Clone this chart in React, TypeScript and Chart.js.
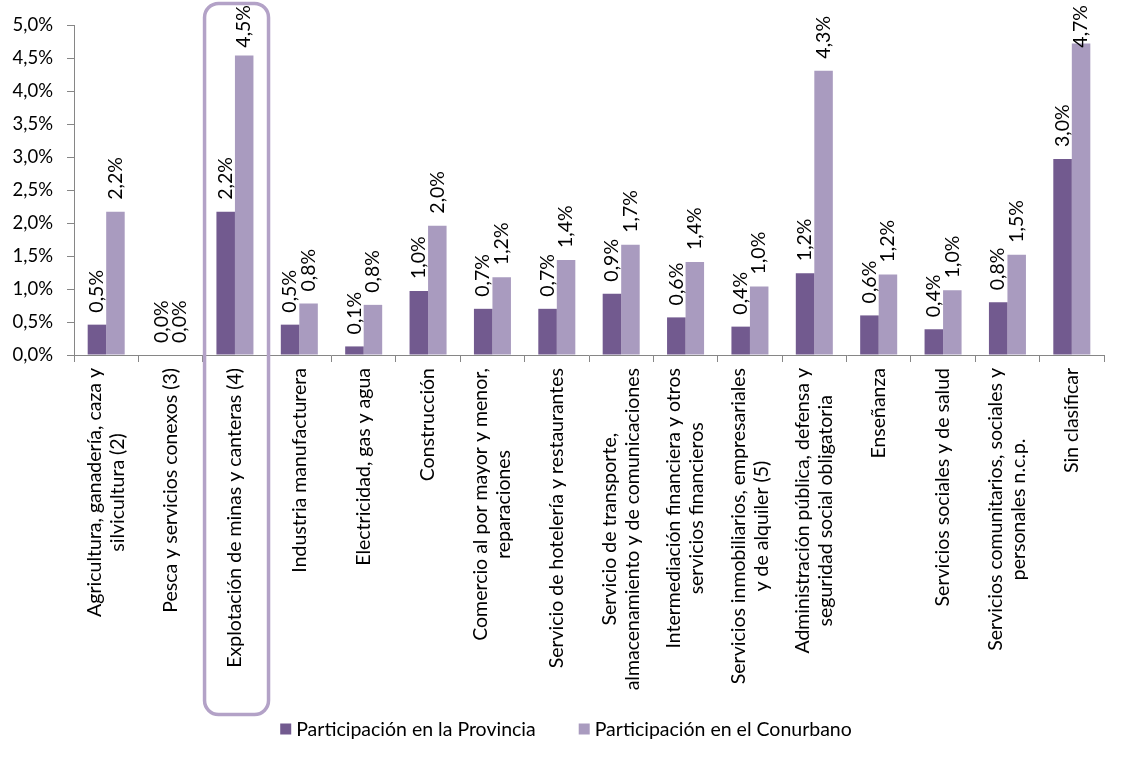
import React, { useEffect, useRef } from 'react';
import { Chart, registerables } from 'chart.js';

Chart.register(...registerables);

const categories: string[][] = [
  ['Agricultura, ganadería, caza y', 'silvicultura (2)'],
  ['Pesca y servicios conexos (3)'],
  ['Explotación de minas y canteras (4)'],
  ['Industria manufacturera'],
  ['Electricidad, gas y agua'],
  ['Construcción'],
  ['Comercio al por mayor y menor,', 'reparaciones'],
  ['Servicio de hotelería y restaurantes'],
  ['Servicio de transporte,', 'almacenamiento y de comunicaciones'],
  ['Intermediación financiera y otros', 'servicios financieros'],
  ['Servicios inmobiliarios, empresariales', 'y de alquiler (5)'],
  ['Administración pública, defensa y', 'seguridad social obligatoria'],
  ['Enseñanza'],
  ['Servicios sociales y de salud'],
  ['Servicios comunitarios, sociales y', 'personales n.c.p.'],
  ['Sin clasificar'],
];

const provincia = [0.46, 0.0, 2.17, 0.46, 0.13, 0.97, 0.7, 0.7, 0.93, 0.57, 0.43, 1.24, 0.6, 0.39, 0.8, 2.97];
const conurbano = [2.17, 0.0, 4.54, 0.78, 0.76, 1.96, 1.18, 1.44, 1.67, 1.41, 1.04, 4.31, 1.22, 0.98, 1.52, 4.72];

const seriesNames = ['Participación en la Provincia', 'Participación en el Conurbano'];
const seriesColors = ['#725A8F', '#A99BBF'];
const highlightIndex = 2;

const FONT = 'Lato, "Open Sans", sans-serif';
const fmt = (v: number) => v.toFixed(1).replace('.', ',') + '%';

export default function App() {
  const ref = useRef<HTMLCanvasElement | null>(null);

  useEffect(() => {
    if (!ref.current) return;

    const labelsPlugin = {
      id: 'customLabels',
      afterDatasetsDraw(chart: any) {
        const ctx = chart.ctx;
        ctx.save();
        ctx.fillStyle = '#000';
        ctx.font = `19.5px ${FONT}`;
        chart.data.datasets.forEach((ds: any, di: number) => {
          const meta = chart.getDatasetMeta(di);
          meta.data.forEach((el: any, i: number) => {
            const txt = fmt(ds.data[i]);
            const w = ctx.measureText(txt).width;
            let start = el.y - 12;
            if (start - w < 5) start = 5 + w;
            ctx.save();
            ctx.translate(el.x, start);
            ctx.rotate(-Math.PI / 2);
            ctx.textAlign = 'left';
            ctx.textBaseline = 'middle';
            ctx.fillText(txt, 0, 0);
            ctx.restore();
          });
        });
        ctx.restore();
      },
      afterDraw(chart: any) {
        const ctx = chart.ctx;
        const xs = chart.scales.x;
        const ca = chart.chartArea;
        // category labels
        ctx.save();
        ctx.fillStyle = '#000';
        ctx.font = `19.5px ${FONT}`;
        const lh = 23;
        categories.forEach((lines, i) => {
          const cx = xs.getPixelForValue(i);
          const maxW = Math.max(...lines.map((l) => ctx.measureText(l).width));
          ctx.save();
          ctx.translate(cx, ca.bottom + 13);
          ctx.rotate(-Math.PI / 2);
          ctx.textAlign = 'center';
          ctx.textBaseline = 'middle';
          const n = lines.length;
          lines.forEach((l, j) => {
            ctx.fillText(l, -maxW / 2, (j - (n - 1) / 2) * lh);
          });
          ctx.restore();
        });
        ctx.restore();

        // highlight box
        const w = (xs.right - xs.left) / categories.length;
        const hx = xs.getPixelForValue(highlightIndex);
        ctx.save();
        ctx.strokeStyle = '#B3A2C7';
        ctx.lineWidth = 3.5;
        ctx.beginPath();
        (ctx as any).roundRect(hx - w / 2 + 1.8, 3.5, w - 0.4, 711, 14);
        ctx.stroke();
        ctx.restore();

        // legend
        ctx.save();
        ctx.font = `19.5px ${FONT}`;
        ctx.textBaseline = 'middle';
        ctx.textAlign = 'left';
        const box = 11;
        const gap = 5;
        const spacing = 43;
        const widths = seriesNames.map((s) => box + gap + ctx.measureText(s).width);
        const total = widths.reduce((a, b) => a + b, 0) + spacing;
        let x = 566 - total / 2;
        const y = 729;
        seriesNames.forEach((s, k) => {
          ctx.fillStyle = seriesColors[k];
          ctx.fillRect(x, y - box / 2, box, box);
          ctx.fillStyle = '#000';
          ctx.fillText(s, x + box + gap, y + 1);
          x += widths[k] + spacing;
        });
        ctx.restore();
      },
    };

    const chart = new Chart(ref.current, {
      type: 'bar',
      data: {
        labels: categories.map((c) => c.join(' ')),
        datasets: [
          {
            label: seriesNames[0],
            data: provincia,
            backgroundColor: seriesColors[0],
            categoryPercentage: 0.575,
            barPercentage: 1.0,
          },
          {
            label: seriesNames[1],
            data: conurbano,
            backgroundColor: seriesColors[1],
            categoryPercentage: 0.575,
            barPercentage: 1.0,
          },
        ],
      },
      options: {
        responsive: false,
        animation: false,
        layout: { padding: { top: 24, right: 21, bottom: 0, left: 0 } },
        plugins: {
          legend: { display: false },
          tooltip: { enabled: false },
        },
        scales: {
          x: {
            grid: {
              offset: true,
              drawOnChartArea: false,
              drawTicks: true,
              tickLength: 7,
              color: '#868686',
            },
            border: { color: '#868686', width: 1 },
            ticks: { display: false },
            afterFit(scale: any) {
              scale.height = 405;
            },
          },
          y: {
            min: 0,
            max: 5,
            grid: {
              drawOnChartArea: false,
              drawTicks: true,
              tickLength: 7,
              color: '#868686',
            },
            border: { color: '#868686', width: 1 },
            ticks: {
              stepSize: 0.5,
              padding: 14,
              color: '#000',
              font: { family: FONT, size: 18.5 },
              callback: (v: any) => fmt(Number(v)),
            },
            afterFit(scale: any) {
              scale.width = 74;
            },
          },
        },
      },
      plugins: [labelsPlugin],
    });

    return () => chart.destroy();
  }, []);

  return (
    <div style={{ position: 'absolute', left: 0, top: 0, width: 1125, height: 760, background: '#fff' }}>
      <canvas ref={ref} width={1125} height={760} style={{ display: 'block' }} />
    </div>
  );
}
